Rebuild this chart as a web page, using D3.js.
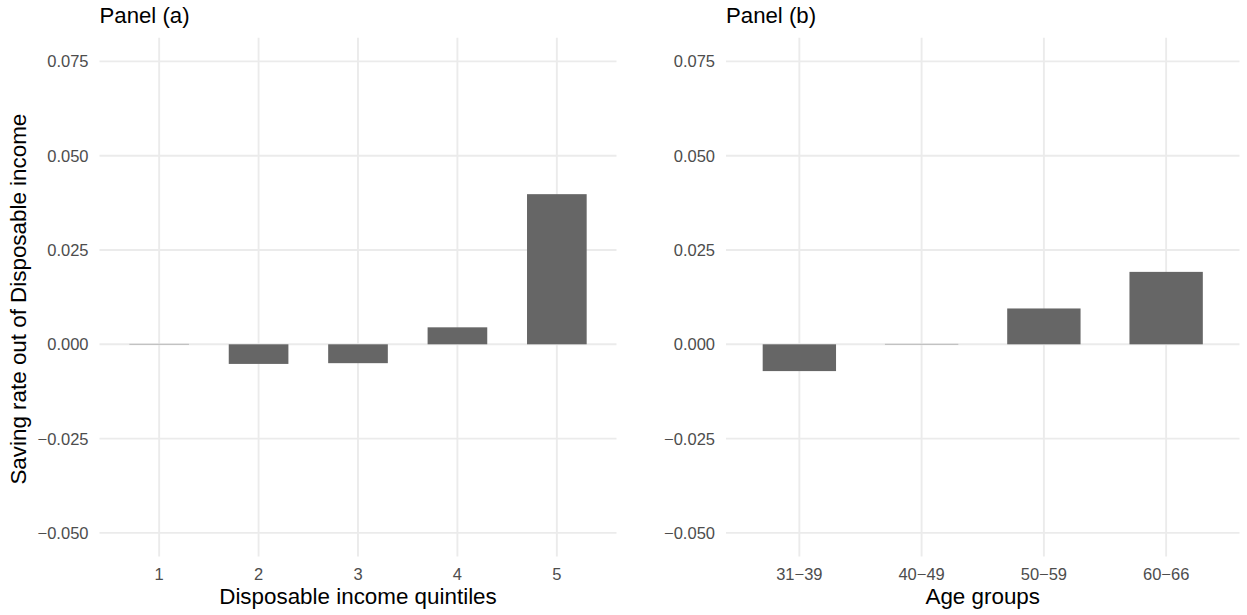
<!DOCTYPE html>
<html>
<head>
<meta charset="utf-8">
<script src="https://cdn.jsdelivr.net/npm/d3@7/dist/d3.min.js"></script>
<style>
  html, body { margin: 0; padding: 0; background: #ffffff; }
  svg { display: block; font-family: "Liberation Sans", Arial, sans-serif; }
</style>
</head>
<body>
<svg id="chart" width="1247" height="615"></svg>
<script>
// Panel (a): saving rate by disposable income quintile
const quintiles = ["1", "2", "3", "4", "5"];
const savingByQuintile = [0.0001, -0.0052, -0.0050, 0.0045, 0.0398];

// Panel (b): saving rate by age group
const ageGroups = ["31\u221239", "40\u221249", "50\u221259", "60\u221266"];
const savingByAge = [-0.0071, 0.0001, 0.0095, 0.0192];

// Shared y axis
const yTicks = [-0.050, -0.025, 0.000, 0.025, 0.050, 0.075];
const yLimits = [-0.05, 0.075];

const svg = d3.select("#chart");
const gridColor = "#ebebeb";
const barColor = "#666666";
const tickColor = "#4d4d4d";

const plotTop = 37.8, plotBottom = 556.5;
const pad = (yLimits[1] - yLimits[0]) * 0.05;
const y = d3.scaleLinear()
  .domain([yLimits[0] - pad, yLimits[1] + pad])
  .range([plotBottom, plotTop]);
const fmt = d3.format(".3f");

function drawPanel(opts) {
  const { left, right, cats, vals, title, xTitle } = opts;
  const x = d3.scaleBand()
    .domain(cats)
    .range([left, right])
    .paddingInner(0.4)
    .paddingOuter(0.3);
  const g = svg.append("g");

  // horizontal grid
  g.selectAll(".hgrid").data(yTicks).join("line")
    .attr("x1", left).attr("x2", right)
    .attr("y1", d => y(d)).attr("y2", d => y(d))
    .attr("stroke", gridColor).attr("stroke-width", 1.9);

  // vertical grid at category centres
  g.selectAll(".vgrid").data(cats).join("line")
    .attr("x1", d => x(d) + x.bandwidth() / 2)
    .attr("x2", d => x(d) + x.bandwidth() / 2)
    .attr("y1", plotTop).attr("y2", plotBottom)
    .attr("stroke", gridColor).attr("stroke-width", 1.9);

  // bars
  g.selectAll(".bar").data(cats.map((c, i) => ({ c, v: vals[i] }))).join("rect")
    .attr("x", d => x(d.c))
    .attr("width", x.bandwidth())
    .attr("y", d => Math.min(y(d.v), y(0)))
    .attr("height", d => Math.abs(y(d.v) - y(0)))
    .attr("fill", barColor);

  // y tick labels
  g.selectAll(".ytick").data(yTicks).join("text")
    .attr("x", left - 11)
    .attr("y", d => y(d))
    .attr("dy", "0.36em")
    .attr("text-anchor", "end")
    .attr("font-size", 16.5)
    .attr("fill", tickColor)
    .text(d => fmt(d));

  // x tick labels
  g.selectAll(".xtick").data(cats).join("text")
    .attr("x", d => x(d) + x.bandwidth() / 2)
    .attr("y", 580)
    .attr("text-anchor", "middle")
    .attr("font-size", 16.5)
    .attr("fill", tickColor)
    .text(d => d);

  // x axis title
  g.append("text")
    .attr("x", (left + right) / 2)
    .attr("y", 604)
    .attr("text-anchor", "middle")
    .attr("font-size", 22.4)
    .attr("fill", "#000")
    .text(xTitle);

  // panel title
  g.append("text")
    .attr("x", left)
    .attr("y", 22.5)
    .attr("font-size", 22.2)
    .attr("fill", "#000")
    .text(title);
}

drawPanel({ left: 99.5, right: 616.5, cats: quintiles, vals: savingByQuintile,
  title: "Panel (a)", xTitle: "Disposable income quintiles" });
drawPanel({ left: 726, right: 1239.5, cats: ageGroups, vals: savingByAge,
  title: "Panel (b)", xTitle: "Age groups" });

// y axis title
svg.append("text")
  .attr("transform", `translate(25.5,${(plotTop + plotBottom) / 2 + 2}) rotate(-90)`)
  .attr("text-anchor", "middle")
  .attr("font-size", 22.4)
  .attr("fill", "#000")
  .text("Saving rate out of Disposable income");
</script>
</body>
</html>
